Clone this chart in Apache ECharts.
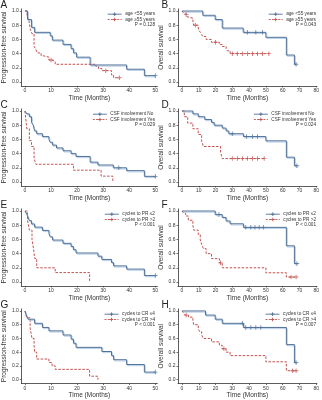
<!DOCTYPE html>
<html><head><meta charset="utf-8">
<script src="https://cdn.jsdelivr.net/npm/echarts@6/dist/echarts.min.js"></script>
<style>html,body{margin:0;padding:0;background:#fff}#c{width:322px;height:400px}</style>
</head><body><div id="c"></div>
<script>
// ---- data (time in months, survival proportion) ----
const xTicksShort = [0,10,20,30,40,50];
const xTicksLong = [0,10,20,30,40,50,60,70,80];
const yTicks = [0,0.2,0.4,0.6,0.8,1.0];

const aBlue = [[0,1],[1,0.88],[2.5,0.77],[3.7,0.70],[9.7,0.65],[10.5,0.59],[14.6,0.53],[17.7,0.47],[18.6,0.41],[19.8,0.35],[25,0.24],[39,0.18],[45.8,0.09],[50,0.09]];
const aRed = [[0,1],[0.8,0.93],[1.5,0.87],[2,0.75],[2.7,0.68],[3.5,0.5],[4.2,0.46],[4.7,0.41],[6.2,0.37],[7,0.35],[9.2,0.31],[10.4,0.29],[11.6,0.25],[27.2,0.22],[28.2,0.19],[29.5,0.16],[33.2,0.10],[34,0.06],[36.2,0.06]];
const aBlueCens = [[50,0.09]];
const aRedCens = [[10,0.31],[31,0.16],[36.2,0.06]];

const bBlue = [[0,1],[12.4,0.94],[19.8,0.88],[24,0.76],[36.5,0.70],[50,0.63],[62.2,0.38],[67,0.25],[68,0.25]];
const bRed = [[0,1],[1,0.97],[2,0.95],[3,0.92],[4,0.90],[6.5,0.86],[7,0.80],[9.7,0.76],[10,0.73],[11,0.70],[11.7,0.67],[12.4,0.64],[14.4,0.60],[17.6,0.56],[22.3,0.53],[24,0.50],[26.3,0.47],[27,0.44],[28.7,0.40],[51.8,0.40]];
const bBlueCens = [[39,0.70],[44,0.70],[48,0.70],[68,0.25]];
const bRedCens = [[2.5,0.95],[8,0.80],[20,0.56],[30,0.40],[33,0.40],[36,0.40],[39,0.40],[42,0.40],[45,0.40],[48,0.40],[51.8,0.40]];

const cBlue = [[0,1],[0.7,0.96],[1.7,0.92],[2.5,0.84],[3.2,0.80],[3.7,0.72],[4.5,0.68],[6.7,0.64],[9.2,0.60],[9.7,0.56],[10.6,0.52],[12.1,0.48],[14.6,0.44],[17.7,0.40],[19.6,0.36],[25,0.28],[28,0.24],[33.9,0.20],[39,0.16],[45.8,0.08],[50,0.08]];
const cRed = [[0,1],[0.7,0.75],[1.7,0.583],[2.5,0.5],[3.5,0.333],[4.2,0.25],[18.6,0.167],[29.2,0.083],[33.7,0]];
const cBlueCens = [[36,0.20],[50,0.08]];
const cRedCens = [];

const dBlue = [[0,1],[6.5,0.96],[9.7,0.92],[13.6,0.88],[17.6,0.84],[19.2,0.80],[24,0.76],[26.3,0.72],[27.9,0.68],[36.6,0.64],[50,0.58],[62.2,0.35],[67,0.23],[68.5,0.23]];
const dRed = [[0,1],[1.4,0.92],[3.4,0.83],[6.5,0.75],[9.7,0.67],[11.7,0.58],[12.8,0.50],[23,0.42],[24,0.33],[49,0.33]];
const dBlueCens = [[30,0.68],[38.5,0.64],[42,0.64],[45,0.64],[68.5,0.23]];
const dRedCens = [[30,0.33],[33,0.33],[36,0.33],[39,0.33],[42,0.33],[45,0.33],[49,0.33]];

const eBlue = [[0,1],[0.7,0.955],[1.2,0.909],[1.7,0.864],[2.5,0.818],[3.7,0.773],[6.7,0.727],[9.2,0.682],[9.7,0.636],[10.6,0.591],[14.6,0.545],[17.7,0.5],[18.6,0.455],[19.6,0.409],[28,0.364],[29.5,0.318],[33.2,0.273],[34,0.227],[39,0.182],[45.8,0.091],[50,0.091]];
const eRed = [[0,1],[1,0.867],[1.7,0.733],[2.7,0.60],[3.3,0.467],[3.7,0.333],[4.5,0.20],[11.6,0.133],[24.8,0]];
const eBlueCens = [[50,0.091]];
const eRedCens = [];

const fBlue = [[0,1],[19.8,0.95],[24,0.91],[26.3,0.86],[28.7,0.82],[36.6,0.77],[62.2,0.51],[67,0.26],[68.5,0.26]];
const fRed = [[0,1],[1,0.97],[2.2,0.93],[3.8,0.87],[6.5,0.80],[7,0.73],[9.7,0.67],[10.9,0.60],[11.7,0.53],[12.8,0.47],[14.4,0.40],[17.6,0.33],[22.3,0.27],[24,0.20],[50,0.13],[62.2,0.07],[68,0.07]];
const fBlueCens = [[22,0.95],[38,0.77],[41,0.77],[43.5,0.77],[46,0.77],[48.5,0.77],[68.5,0.26]];
const fRedCens = [[23,0.27],[65,0.07],[68,0.07]];

const gBlue = [[0,1],[0.5,0.94],[1.2,0.88],[3.7,0.82],[6.7,0.76],[9.2,0.71],[14.6,0.65],[17.7,0.59],[18.6,0.53],[19.6,0.47],[29.5,0.41],[33.2,0.35],[34,0.29],[39,0.22],[45.8,0.11],[50,0.11]];
const gRed = [[0,1],[0.7,0.90],[2,0.75],[2.7,0.60],[3.5,0.50],[3.7,0.40],[4.5,0.30],[9.2,0.25],[10.4,0.20],[11.6,0.15],[24.8,0.05],[28,0]];
const gBlueCens = [[50,0.11]];
const gRedCens = [];

const hBlue = [[0,1],[14,0.94],[19.8,0.88],[24,0.82],[36.6,0.76],[62.2,0.51],[67,0.25],[68,0.25]];
const hRed = [[0,1],[1,0.97],[2,0.94],[3.8,0.91],[6.5,0.86],[7,0.80],[9.7,0.74],[10.5,0.70],[11.7,0.65],[12.8,0.60],[17.6,0.55],[22.3,0.50],[24,0.45],[26.3,0.40],[28.7,0.35],[50,0.26],[62.2,0.13],[68,0.13]];
const hBlueCens = [[36,0.82],[38,0.76],[41,0.76],[44,0.76],[47,0.76],[68,0.25]];
const hRedCens = [[2.5,0.94],[25,0.45],[66,0.13],[68,0.13]];

const panelLetters = ['A','B','C','D','E','F','G','H'];
const yNames = ['Progression-free survival','Overall survival'];
const groupNames = [
  ['age <55 years','age \u226555 years'],
  ['CSF involvement No','CSF involvement Yes'],
  ['cycles to PR \u22642','cycles to PR >2'],
  ['cycles to CR \u22644','cycles to CR >4']
];
const pValues = ['P = 0.128','P = 0.043','P = 0.029','P = 0.024','P < 0.001','P < 0.001','P < 0.001','P = 0.007'];
const blues = [aBlue,bBlue,cBlue,dBlue,eBlue,fBlue,gBlue,hBlue];
const reds = [aRed,bRed,cRed,dRed,eRed,fRed,gRed,hRed];
const blueCens = [aBlueCens,bBlueCens,cBlueCens,dBlueCens,eBlueCens,fBlueCens,gBlueCens,hBlueCens];
const redCens = [aRedCens,bRedCens,cRedCens,dRedCens,eRedCens,fRedCens,gRedCens,hRedCens];

// ---- build chart ----
const FONT = 'Liberation Sans, Arial, sans-serif';
const BLUE = '#4f6f95', RED = '#c0504d', AX = '#333';
const PLUS = 'path://M4,0L6,0L6,4L10,4L10,6L6,6L6,10L4,10L4,6L0,6L0,4L4,4Z';
const LFS = 4.7;
const mctx = document.createElement('canvas').getContext('2d');
mctx.font = LFS + 'px ' + FONT;
const grids=[], xAxes=[], yAxes=[], series=[], graphics=[];

for (let i=0;i<8;i++){
  const col=i%2, row=Math.floor(i/2);
  const px=col*161, py=row*100;
  const longX = col===1;
  grids.push({left:px+17, top:py+8.9, width: longX?139.7:140.4, height:77.1, containLabel:false});
  const ticks = longX?xTicksLong:xTicksShort;
  xAxes.push({gridIndex:i,type:'value',min:longX?-2.37:-1.38,max:longX?80.4:50.8,
    name:'Time (Months)',nameLocation:'middle',nameGap:8.5,
    nameTextStyle:{fontSize:6.5,fontFamily:FONT,color:AX},
    axisLine:{onZero:false,lineStyle:{color:AX,width:0.8}},
    axisTick:{customValues:ticks,length:1.5,lineStyle:{color:AX,width:0.7}},
    axisLabel:{customValues:ticks,fontSize:5,fontFamily:FONT,color:AX,margin:2.5},
    splitLine:{show:false}});
  yAxes.push({gridIndex:i,type:'value',min:-0.056,max:1.03,
    name:yNames[col],nameLocation:'middle',nameGap:9.5,nameRotate:90,
    nameTextStyle:{fontSize:6.5,fontFamily:FONT,color:AX},
    axisLine:{onZero:false,lineStyle:{color:AX,width:0.8}},
    axisTick:{customValues:yTicks,length:1.5,lineStyle:{color:AX,width:0.7}},
    axisLabel:{customValues:yTicks,fontSize:5,fontFamily:FONT,color:AX,margin:2.5,formatter:v=>v.toFixed(1)},
    splitLine:{show:false}});
  const names = groupNames[row];
  series.push({name:names[0],type:'line',step:'end',xAxisIndex:i,yAxisIndex:i,data:blues[i],
    showSymbol:false,itemStyle:{color:BLUE},
    lineStyle:{color:BLUE,width:1,shadowColor:'rgba(160,192,228,0.75)',shadowOffsetX:1,shadowOffsetY:1.2},
    emphasis:{disabled:true},silent:true,animation:false,z:3});
  series.push({name:names[1],type:'line',step:'end',xAxisIndex:i,yAxisIndex:i,data:reds[i],
    showSymbol:false,itemStyle:{color:RED},
    lineStyle:{color:RED,width:1,type:[2.5,1.5]},
    emphasis:{disabled:true},silent:true,animation:false,z:2});
  series.push({type:'scatter',xAxisIndex:i,yAxisIndex:i,data:blueCens[i],symbol:PLUS,symbolSize:4.5,
    itemStyle:{color:BLUE},silent:true,animation:false,z:4});
  series.push({type:'scatter',xAxisIndex:i,yAxisIndex:i,data:redCens[i],symbol:PLUS,symbolSize:4.5,
    itemStyle:{color:RED},silent:true,animation:false,z:4});
  // legend box (key samples + labels)
  const textRight = px+155;
  const maxW = Math.max(mctx.measureText(names[0]).width, mctx.measureText(names[1]).width);
  const textLeft = textRight - maxW;
  const lineR = textLeft - 3.5, lineL = lineR - 14;
  const rows = [py+14.2, py+19.5];
  const cols = [BLUE, RED];
  for (let k=0;k<2;k++){
    const yy = rows[k];
    graphics.push({type:'line',shape:{x1:lineL,y1:yy,x2:lineR,y2:yy},
      style:{stroke:cols[k],lineWidth:0.9,lineDash:k===1?[2,1.2]:null},silent:true});
    const mx=(lineL+lineR)/2;
    graphics.push({type:'line',shape:{x1:mx,y1:yy-1.8,x2:mx,y2:yy+1.8},style:{stroke:cols[k],lineWidth:0.9},silent:true});
    graphics.push({type:'line',shape:{x1:mx-1.8,y1:yy,x2:mx+1.8,y2:yy},style:{stroke:cols[k],lineWidth:0.9},silent:true});
    graphics.push({type:'text',x:textLeft,y:yy,style:{text:names[k],align:'left',verticalAlign:'middle',
      fontSize:LFS,fontFamily:FONT,fill:AX},silent:true});
  }
  graphics.push({type:'text',x:textRight,y:py+24.8,style:{text:pValues[i],align:'right',verticalAlign:'middle',
    fontSize:LFS,fontFamily:FONT,fill:AX},silent:true});
  graphics.push({type:'text',x:px+0.5,y:py+0.5,style:{text:panelLetters[i],fontSize:10,fontFamily:FONT,fill:'#222',verticalAlign:'top'},silent:true});
}

const chart = echarts.init(document.getElementById('c'),null,{renderer:'canvas'});
chart.setOption({animation:false,backgroundColor:'#fff',grid:grids,xAxis:xAxes,yAxis:yAxes,series,graphic:graphics});
</script></body></html>
